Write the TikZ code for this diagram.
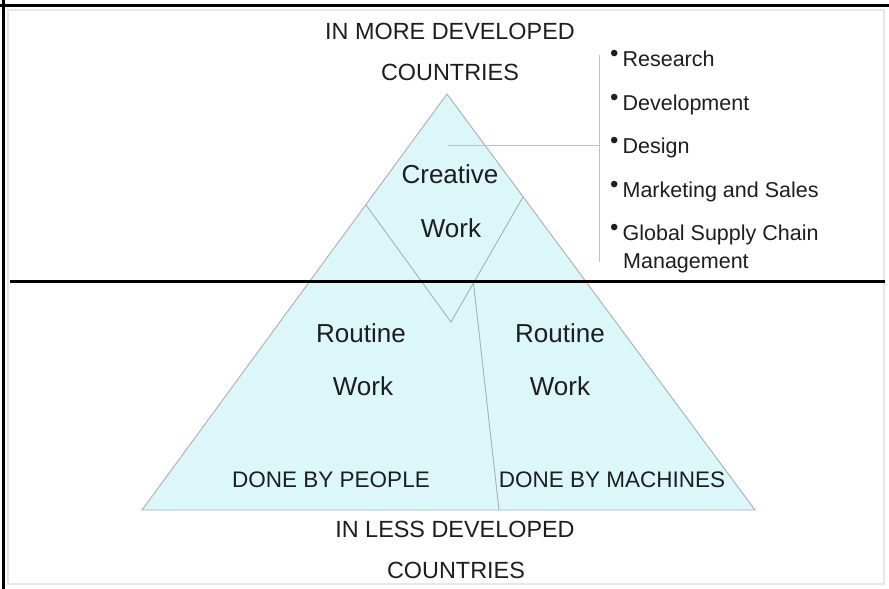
\documentclass[tikz,border=0pt]{standalone}
\usepackage{fontspec}
\setmainfont{Liberation Sans}
\definecolor{tri}{RGB}{220,247,249}
\definecolor{edge}{RGB}{165,178,180}
\definecolor{conn}{RGB}{172,200,208}
\definecolor{frame}{RGB}{228,232,232}
\definecolor{ink}{RGB}{30,30,30}
\newcommand{\bulmark}{\raisebox{5pt}{\fontsize{24}{24}\selectfont\textbullet}\hspace{4pt}}
\begin{document}
\begin{tikzpicture}[x=1pt,y=-1pt,
  caps/.style={inner sep=0pt,anchor=base,text=ink,font=\fontsize{23.4}{28}\selectfont},
  done/.style={inner sep=0pt,anchor=base,text=ink,font=\fontsize{22.5}{27}\selectfont},
  lower/.style={inner sep=0pt,anchor=base,text=ink,font=\fontsize{26}{30}\selectfont},
  item/.style={inner sep=0pt,anchor=base west,text=ink,font=\fontsize{21.5}{26}\selectfont},
  edgeline/.style={draw=edge,line width=0.9pt},
  connline/.style={draw=conn,line width=1pt}]
\useasboundingbox (0,0) rectangle (889,589);
\fill[white] (0,0) rectangle (889,589);
% frame
\draw[frame,line width=1.6pt] (8,10) rectangle (884,584);
\draw[black,line width=3pt] (3.5,0) -- (3.5,589);
\draw[black,line width=3pt] (0,5) -- (889,5);
% triangle
\coordinate (apex) at (447,94);
\coordinate (bl) at (142,510);
\coordinate (br) at (755,510);
\coordinate (vl) at (366,205);
\coordinate (vb) at (451,322);
\coordinate (vr) at (523,197);
\coordinate (vm) at (473.5,283);
\coordinate (db) at (499,510);
\filldraw[fill=tri,edgeline] (apex) -- (bl) -- (br) -- cycle;
\draw[edgeline] (vl) -- (vb) -- (vr);
\draw[edgeline] (vm) -- (db);
% dividing line
\coordinate (hl) at (10,281);
\coordinate (hr) at (885,281);
\draw[black,line width=3pt] (hl) -- (hr);
% connector
\coordinate (cs) at (448,145);
\coordinate (ce) at (599,145);
\coordinate (vt) at (599,55);
\coordinate (vbt) at (599,262);
\draw[connline] (cs) -- (ce);
\draw[connline] (vt) -- (vbt);
% labels
\node[caps] (t1) at (450,39) {IN MORE DEVELOPED};
\node[caps] (t2) at (450,80) {COUNTRIES};
\node[lower] (c1) at (450,183) {Creative};
\node[lower] (c2) at (451,237) {Work};
\node[lower] (r1) at (361,342) {Routine};
\node[lower] (r2) at (363,395) {Work};
\node[lower] (m1) at (560,342) {Routine};
\node[lower] (m2) at (560,395) {Work};
\node[done] (d1) at (331,487) {DONE BY PEOPLE};
\node[done] (d2) at (612,487) {DONE BY MACHINES};
\node[caps] (b1) at (455,537) {IN LESS DEVELOPED};
\node[caps] (b2) at (456,578) {COUNTRIES};
% list
\node[item] (i1) at (610,66) {\bulmark Research};
\node[item] (i2) at (610,110) {\bulmark Development};
\node[item] (i3) at (610,153) {\bulmark Design};
\node[item] (i4) at (610,197) {\bulmark Marketing and Sales};
\node[item] (i5) at (610,240) {\bulmark Global Supply Chain};
\node[item] (i6) at (623,268) {Management};
\end{tikzpicture}
\end{document}
